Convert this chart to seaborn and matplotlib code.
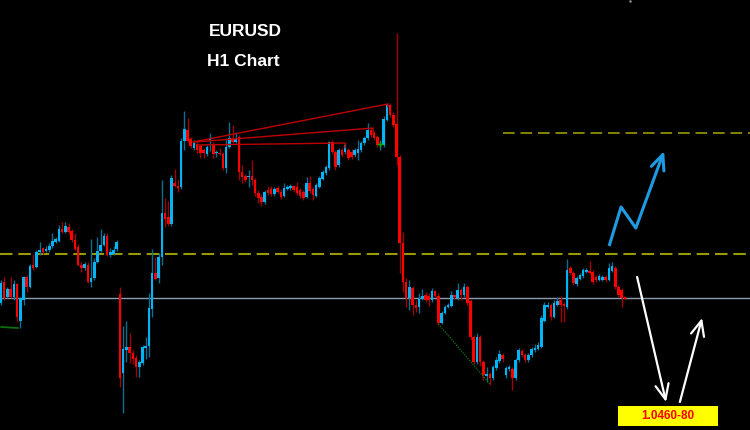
import numpy as np
import pandas as pd
import seaborn as sns
import matplotlib.pyplot as plt

# datos de las velas H1 (EURUSD)
opens = [1.0597, 1.0618, 1.0603, 1.0611, 1.0603, 1.0616, 1.0579, 1.0600, 1.0623, 1.0613, 1.0635, 1.0633, 1.0648,
         1.0652, 1.0649, 1.0650, 1.0654, 1.0658, 1.0659, 1.0671, 1.0668, 1.0673, 1.0669, 1.0660, 1.0653, 1.0635,
         1.0632, 1.0635, 1.0618, 1.0622, 1.0638, 1.0649, 1.0655, 1.0664, 1.0645, 1.0646, 1.0651, 1.0606, 1.0527,
         1.0550, 1.0553, 1.0547, 1.0542, 1.0533, 1.0537, 1.0552, 1.0554, 1.0591, 1.0627, 1.0622, 1.0643, 1.0687,
         1.0683, 1.0676, 1.0717, 1.0714, 1.0713, 1.0759, 1.0770, 1.0761, 1.0752, 1.0756, 1.0754, 1.0750, 1.0746,
         1.0760, 1.0755, 1.0747, 1.0747, 1.0746, 1.0732, 1.0753, 1.0762, 1.0758, 1.0763, 1.0728, 1.0724, 1.0723,
         1.0724, 1.0720, 1.0707, 1.0703, 1.0698, 1.0710, 1.0711, 1.0706, 1.0712, 1.0708, 1.0704, 1.0711, 1.0712,
         1.0714, 1.0713, 1.0710, 1.0708, 1.0703, 1.0717, 1.0711, 1.0704, 1.0713, 1.0721, 1.0727, 1.0732, 1.0758,
         1.0748, 1.0735, 1.0750, 1.0748, 1.0750, 1.0748, 1.0745, 1.0747, 1.0750, 1.0757, 1.0762, 1.0770, 1.0767,
         1.0763, 1.0755, 1.0755, 1.0780, 1.0795, 1.0785, 1.0776, 1.0743, 1.0657, 1.0618, 1.0602, 1.0612, 1.0595,
         1.0593, 1.0601, 1.0605, 1.0604, 1.0600, 1.0609, 1.0604, 1.0577, 1.0587, 1.0593, 1.0594, 1.0605, 1.0602,
         1.0610, 1.0605, 1.0613, 1.0599, 1.0563, 1.0538, 1.0563, 1.0538, 1.0524, 1.0526, 1.0522, 1.0532, 1.0539,
         1.0545, 1.0525, 1.0531, 1.0531, 1.0522, 1.0540, 1.0549, 1.0545, 1.0540, 1.0545, 1.0550, 1.0551, 1.0553,
         1.0579, 1.0593, 1.0595, 1.0583, 1.0595, 1.0600, 1.0596, 1.0593, 1.0632, 1.0627, 1.0616, 1.0621, 1.0624,
         1.0628, 1.0629, 1.0628, 1.0623, 1.0620, 1.0620, 1.0623, 1.0620, 1.0629, 1.0632, 1.0613, 1.0610, 1.0603]
closes = [1.0617, 1.0602, 1.0611, 1.0603, 1.0616, 1.0583, 1.0602, 1.0623, 1.0613, 1.0634, 1.0632, 1.0648, 1.0650,
          1.0648, 1.0651, 1.0654, 1.0659, 1.0661, 1.0671, 1.0668, 1.0674, 1.0668, 1.0660, 1.0651, 1.0635, 1.0632,
          1.0636, 1.0618, 1.0622, 1.0638, 1.0649, 1.0655, 1.0664, 1.0645, 1.0648, 1.0650, 1.0658, 1.0522, 1.0551,
          1.0553, 1.0547, 1.0541, 1.0533, 1.0538, 1.0553, 1.0554, 1.0592, 1.0627, 1.0621, 1.0643, 1.0687, 1.0681,
          1.0676, 1.0722, 1.0714, 1.0712, 1.0759, 1.0771, 1.0759, 1.0754, 1.0757, 1.0750, 1.0747, 1.0747, 1.0753,
          1.0762, 1.0746, 1.0748, 1.0746, 1.0732, 1.0753, 1.0762, 1.0758, 1.0761, 1.0728, 1.0723, 1.0720, 1.0724,
          1.0720, 1.0707, 1.0702, 1.0698, 1.0708, 1.0707, 1.0706, 1.0711, 1.0708, 1.0703, 1.0712, 1.0713, 1.0714,
          1.0710, 1.0707, 1.0704, 1.0702, 1.0717, 1.0709, 1.0705, 1.0715, 1.0722, 1.0728, 1.0733, 1.0758, 1.0748,
          1.0733, 1.0750, 1.0745, 1.0755, 1.0742, 1.0743, 1.0750, 1.0751, 1.0757, 1.0762, 1.0770, 1.0765, 1.0762,
          1.0755, 1.0756, 1.0781, 1.0795, 1.0785, 1.0775, 1.0743, 1.0657, 1.0618, 1.0602, 1.0613, 1.0595, 1.0592,
          1.0601, 1.0604, 1.0600, 1.0600, 1.0609, 1.0604, 1.0577, 1.0587, 1.0593, 1.0595, 1.0605, 1.0603, 1.0610,
          1.0605, 1.0613, 1.0597, 1.0563, 1.0538, 1.0563, 1.0538, 1.0525, 1.0526, 1.0522, 1.0533, 1.0540, 1.0546,
          1.0541, 1.0532, 1.0533, 1.0522, 1.0540, 1.0550, 1.0545, 1.0540, 1.0545, 1.0551, 1.0552, 1.0555, 1.0582,
          1.0595, 1.0595, 1.0583, 1.0597, 1.0599, 1.0595, 1.0594, 1.0630, 1.0627, 1.0617, 1.0622, 1.0625, 1.0630,
          1.0630, 1.0627, 1.0618, 1.0620, 1.0624, 1.0623, 1.0620, 1.0632, 1.0634, 1.0613, 1.0605, 1.0602, 1.0601]
highs = [1.0620, 1.0623, 1.0613, 1.0623, 1.0620, 1.0617, 1.0603, 1.0624, 1.0625, 1.0636, 1.0646, 1.0650, 1.0658,
         1.0653, 1.0654, 1.0657, 1.0667, 1.0663, 1.0675, 1.0678, 1.0678, 1.0677, 1.0671, 1.0667, 1.0656, 1.0638,
         1.0638, 1.0638, 1.0661, 1.0642, 1.0663, 1.0671, 1.0667, 1.0667, 1.0652, 1.0654, 1.0660, 1.0613, 1.0574,
         1.0579, 1.0567, 1.0550, 1.0545, 1.0540, 1.0555, 1.0563, 1.0607, 1.0651, 1.0643, 1.0647, 1.0720, 1.0702,
         1.0699, 1.0725, 1.0731, 1.0721, 1.0762, 1.0789, 1.0782, 1.0763, 1.0760, 1.0758, 1.0756, 1.0752, 1.0755,
         1.0767, 1.0758, 1.0750, 1.0752, 1.0748, 1.0762, 1.0778, 1.0775, 1.0768, 1.0765, 1.0735, 1.0726, 1.0730,
         1.0740, 1.0722, 1.0710, 1.0706, 1.0710, 1.0714, 1.0714, 1.0713, 1.0714, 1.0711, 1.0717, 1.0715, 1.0716,
         1.0715, 1.0718, 1.0712, 1.0710, 1.0723, 1.0724, 1.0713, 1.0717, 1.0724, 1.0730, 1.0735, 1.0759, 1.0760,
         1.0750, 1.0752, 1.0752, 1.0757, 1.0752, 1.0751, 1.0752, 1.0760, 1.0759, 1.0764, 1.0777, 1.0772, 1.0769,
         1.0765, 1.0760, 1.0784, 1.0797, 1.0797, 1.0788, 1.0867, 1.0745, 1.0668, 1.0622, 1.0620, 1.0614, 1.0600,
         1.0607, 1.0611, 1.0608, 1.0607, 1.0612, 1.0610, 1.0607, 1.0589, 1.0595, 1.0597, 1.0609, 1.0606, 1.0617,
         1.0612, 1.0617, 1.0615, 1.0601, 1.0565, 1.0567, 1.0565, 1.0540, 1.0533, 1.0528, 1.0535, 1.0543, 1.0550,
         1.0547, 1.0534, 1.0535, 1.0533, 1.0542, 1.0552, 1.0551, 1.0547, 1.0547, 1.0553, 1.0556, 1.0558, 1.0585,
         1.0598, 1.0598, 1.0597, 1.0600, 1.0603, 1.0604, 1.0598, 1.0641, 1.0634, 1.0629, 1.0624, 1.0627, 1.0632,
         1.0632, 1.0639, 1.0630, 1.0625, 1.0626, 1.0625, 1.0625, 1.0637, 1.0638, 1.0634, 1.0615, 1.0612, 1.0604]
lows = [1.0595, 1.0600, 1.0602, 1.0602, 1.0600, 1.0578, 1.0572, 1.0595, 1.0608, 1.0612, 1.0630, 1.0632, 1.0645,
        1.0646, 1.0648, 1.0648, 1.0652, 1.0657, 1.0658, 1.0667, 1.0667, 1.0666, 1.0658, 1.0650, 1.0634, 1.0628,
        1.0630, 1.0617, 1.0613, 1.0620, 1.0637, 1.0648, 1.0654, 1.0644, 1.0643, 1.0645, 1.0649, 1.0513, 1.0487,
        1.0538, 1.0537, 1.0536, 1.0523, 1.0523, 1.0535, 1.0541, 1.0543, 1.0583, 1.0620, 1.0617, 1.0635, 1.0673,
        1.0674, 1.0674, 1.0713, 1.0708, 1.0711, 1.0750, 1.0758, 1.0752, 1.0750, 1.0747, 1.0742, 1.0742, 1.0744,
        1.0749, 1.0742, 1.0743, 1.0745, 1.0730, 1.0727, 1.0752, 1.0757, 1.0757, 1.0720, 1.0717, 1.0718, 1.0713,
        1.0715, 1.0704, 1.0697, 1.0694, 1.0696, 1.0705, 1.0704, 1.0704, 1.0707, 1.0701, 1.0703, 1.0710, 1.0710,
        1.0708, 1.0705, 1.0702, 1.0700, 1.0702, 1.0707, 1.0700, 1.0703, 1.0712, 1.0720, 1.0725, 1.0730, 1.0746,
        1.0730, 1.0733, 1.0743, 1.0746, 1.0740, 1.0741, 1.0743, 1.0740, 1.0748, 1.0755, 1.0760, 1.0763, 1.0760,
        1.0753, 1.0750, 1.0753, 1.0779, 1.0783, 1.0773, 1.0735, 1.0627, 1.0608, 1.0593, 1.0590, 1.0585, 1.0588,
        1.0587, 1.0600, 1.0598, 1.0594, 1.0598, 1.0603, 1.0575, 1.0576, 1.0586, 1.0592, 1.0593, 1.0601, 1.0600,
        1.0600, 1.0603, 1.0595, 1.0560, 1.0536, 1.0536, 1.0534, 1.0520, 1.0518, 1.0515, 1.0520, 1.0530, 1.0537,
        1.0538, 1.0522, 1.0529, 1.0510, 1.0520, 1.0538, 1.0543, 1.0538, 1.0538, 1.0543, 1.0548, 1.0550, 1.0552,
        1.0578, 1.0592, 1.0580, 1.0582, 1.0594, 1.0578, 1.0578, 1.0591, 1.0625, 1.0615, 1.0614, 1.0620, 1.0622,
        1.0627, 1.0626, 1.0616, 1.0618, 1.0619, 1.0619, 1.0618, 1.0619, 1.0628, 1.0611, 1.0603, 1.0593, 1.0600]

# niveles y anotaciones (indice de vela, precio)
nivel_gris = 1.0602
nivel_amarillo = 1.0646
nivel_amarillo_alto = 1.0767
tl1_x, tl1_y = [59.7, 120.3, 120.3], [1.0758, 1.0796, 1.0793]
tl2_x, tl2_y = [60.3, 115.7, 115.7], [1.0758, 1.0772, 1.0766]
tl3_x, tl3_y = [61.0, 107.0, 107.0], [1.0755, 1.0757, 1.0752]
verde_x, verde_y = [0.0, 5.3], [1.0573, 1.0572]
verde2_x, verde2_y = [136.0, 152.0], [1.0576, 1.0516]
azul_x = [189.1, 192.8, 197.4, 206.2]
azul_y = [1.0654, 1.0693, 1.0672, 1.0749]
blanca1 = [(197.8, 1.0623), (206.8, 1.0498)]
blanca2 = [(211.1, 1.0498), (218.0, 1.0582)]
objetivo = "1.0460-80"

df = pd.DataFrame({"open": opens, "high": highs, "low": lows, "close": closes})
df["idx"] = np.arange(len(df))
df["sube"] = df["close"] >= df["open"]

sns.set_theme(style="dark", rc={"axes.facecolor": "black", "figure.facecolor": "black"})
plt.rcParams['font.family'] = ['Liberation Sans', 'DejaVu Sans']

fig = plt.figure(figsize=(7.5, 4.3), dpi=100)
ax = fig.add_axes([0, 0, 1, 1])
ax.set_facecolor("black")

# lineas horizontales
ax.axhline(nivel_gris, color="#8c9bb0", lw=1, zorder=1)
ax.axhline(nivel_amarillo, color="#9a9a00", lw=1.5, dashes=(6, 2.8), zorder=1)
ax.hlines(nivel_amarillo_alto, 156, 235, color="#9a9a00", lw=1.2, linestyles=(0, (7, 3.5)), zorder=1)

# velas
azul, rojo = "#00b4f5", "#ff0000"
mecha_azul, mecha_roja = "#0b6f94", "#a30000"
ax.vlines(df["idx"], df["low"], df["high"],
          colors=np.where(df["sube"], mecha_azul, mecha_roja), lw=1.0, zorder=2)
cuerpo = (df["close"] - df["open"]).abs().clip(lower=0.0001)
ax.bar(df["idx"], cuerpo, bottom=df[["open", "close"]].min(axis=1), width=0.8,
       color=np.where(df["sube"], azul, rojo), linewidth=0, zorder=3)

# lineas de tendencia
for lx, ly in [(tl1_x, tl1_y), (tl2_x, tl2_y), (tl3_x, tl3_y)]:
    sns.lineplot(x=lx, y=ly, ax=ax, color="#c00000", lw=1.0, sort=False, estimator=None, zorder=4)
ax.plot(verde_x, verde_y, color="#0a6e0a", lw=1.3, zorder=4)
ax.plot(verde2_x, verde2_y, color="#0a7a0a", lw=0.9, ls=(0, (1, 1)), zorder=4)
ax.plot(118, 1.0756, marker="+", color="#00b000", ms=5, mew=1, zorder=5)

# flechas
ax.plot(azul_x[:-1], azul_y[:-1], color="#1e9be2", lw=2.2, solid_capstyle="butt", zorder=5)
ax.annotate("", xy=(azul_x[-1], azul_y[-1]), xytext=(azul_x[-2], azul_y[-2]),
            arrowprops=dict(arrowstyle="->,head_length=0.9,head_width=0.4", color="#1e9be2",
                            lw=2.2, shrinkA=0, shrinkB=0), zorder=5)
for (x0, y0), (x1, y1) in [blanca1, blanca2]:
    ax.annotate("", xy=(x1, y1), xytext=(x0, y0),
                arrowprops=dict(arrowstyle="->,head_length=0.9,head_width=0.4", color="white",
                                lw=1.6, shrinkA=0, shrinkB=0), zorder=5)

# caja del objetivo
ax.add_patch(plt.Rectangle((191.9, 1.0474), 31.1, 0.0020, facecolor="#ffff00", edgecolor="none", zorder=6))
ax.text(207.4, 1.0484, objetivo, color="#ff0000", fontsize=8.5, fontweight="bold",
        ha="center", va="center", zorder=7)

ax.plot(195.6, 1.0899, marker="o", color="#8a93a8", ms=1.8, mew=0, zorder=5)

# titulo
fig.text(0.327, 0.926, "EURUSD", color="white", fontsize=12.5, fontweight="bold", ha="center", va="center")
fig.text(0.324, 0.858, "H1 Chart", color="white", fontsize=12.5, fontweight="bold", ha="center", va="center")

ax.set_xlim(-0.31, 232.9)
ax.set_ylim(1.0470, 1.0900)
ax.axis("off")

fig.savefig("out.png", dpi=100, facecolor="black")
